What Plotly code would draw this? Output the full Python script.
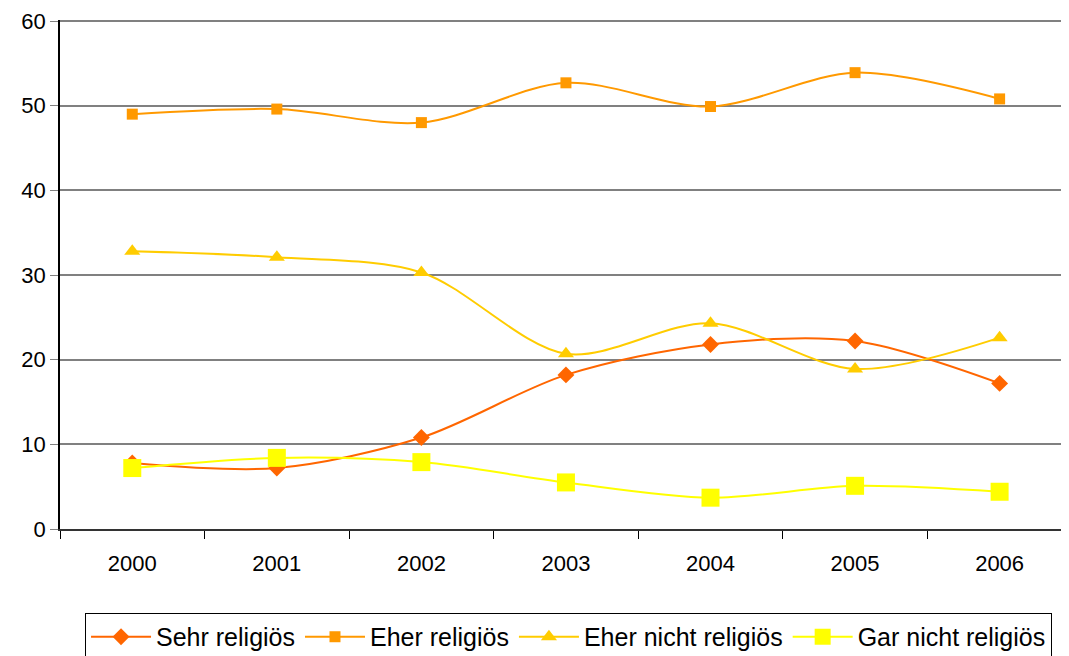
import plotly.graph_objects as go

years = ["2000", "2001", "2002", "2003", "2004", "2005", "2006"]
sehr = [7.8, 7.2, 10.8, 18.2, 21.8, 22.2, 17.2]
eher = [49.0, 49.6, 48.0, 52.7, 49.9, 53.9, 50.8]
eher_nicht = [32.8, 32.1, 30.3, 20.7, 24.3, 18.9, 22.6]
gar_nicht = [7.2, 8.4, 7.9, 5.5, 3.7, 5.1, 4.4]
y_ticks = [0, 10, 20, 30, 40, 50, 60]

series = [
    ("Sehr religiös", sehr, "#FF6600", "diamond", 13),
    ("Eher religiös", eher, "#FF9900", "square", 11),
    ("Eher nicht religiös", eher_nicht, "#FFCC00", "triangle-up", 14),
    ("Gar nicht religiös", gar_nicht, "#FFFF00", "square", 18),
]

fig = go.Figure()
for name, vals, col, sym, sz in series:
    fig.add_trace(go.Scatter(
        x=years, y=vals, name=name, mode="lines+markers",
        line=dict(color=col, width=2, shape="spline", smoothing=0.9),
        marker=dict(symbol=sym, size=sz, color=col),
    ))

# page body has an 8px default margin, so the figure is sized to fit inside the window
fig.update_layout(
    width=1061, height=648,
    margin=dict(l=52, r=0, t=12, b=127, autoexpand=False),
    paper_bgcolor="white", plot_bgcolor="white",
    font=dict(family="Liberation Sans, Arial, sans-serif", size=22, color="black"),
    showlegend=True,
    legend=dict(orientation="h", x=0.504, xanchor="center", y=-0.165, yanchor="top",
                bordercolor="black", borderwidth=1, font=dict(size=25),
                itemwidth=60, tracegroupgap=0),
    xaxis=dict(type="category", range=[-0.5, 6.48], showgrid=False,
               showline=True, linecolor="#333333", linewidth=2,
               ticks="outside", tickson="boundaries", ticklen=8, tickcolor="black",
               ticklabelstandoff=14,
               tickfont=dict(size=22), automargin=False),
    yaxis=dict(range=[0, 60.12], tickvals=y_ticks, showgrid=True, gridcolor="#808080", gridwidth=2,
               showline=True, linecolor="black", linewidth=1.5,
               ticks="outside", ticklen=8, tickcolor="#808080", zeroline=False,
               ticklabeloverflow="allow",
               tickfont=dict(size=22), automargin=False),
)

fig.write_html("out.html")
